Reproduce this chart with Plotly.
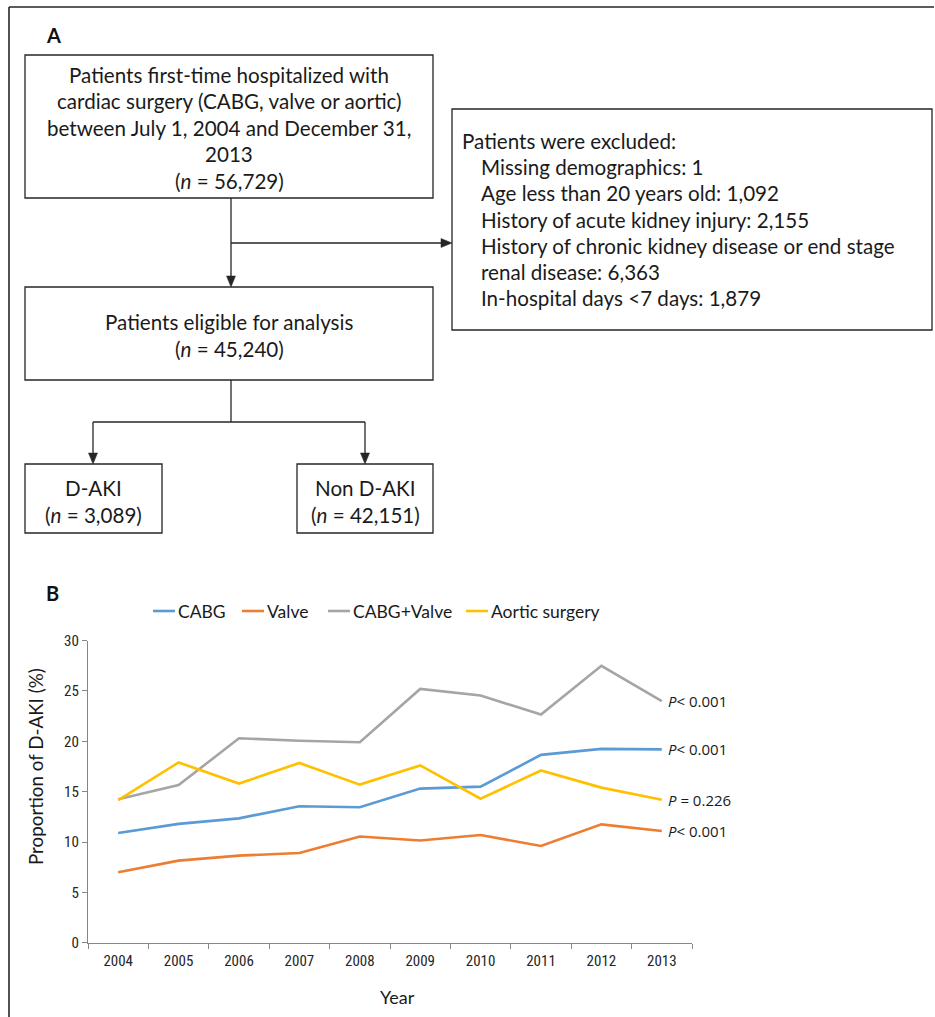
import plotly.graph_objects as go

W, H = 935, 1017

years = ["2004", "2005", "2006", "2007", "2008", "2009", "2010", "2011", "2012", "2013"]
cabg = [10.9, 11.8, 12.35, 13.55, 13.45, 15.3, 15.5, 18.65, 19.25, 19.2]
valve = [7.0, 8.15, 8.65, 8.9, 10.55, 10.15, 10.7, 9.6, 11.75, 11.1]
cabg_valve = [14.25, 15.65, 20.3, 20.05, 19.9, 25.2, 24.55, 22.65, 27.5, 24.0]
aortic = [14.15, 17.9, 15.8, 17.85, 15.7, 17.6, 14.3, 17.1, 15.4, 14.2]
series_names = ["CABG", "Valve", "CABG+Valve", "Aortic surgery"]
series_colors = ["#5B9BD5", "#ED7D31", "#A5A5A5", "#FFC000"]
p_labels = ["<i>P</i>< 0.001", "<i>P</i>< 0.001", "<i>P</i> = 0.226", "<i>P</i>< 0.001"]
p_series = [cabg_valve, cabg, aortic, valve]
y_ticks = [0, 5, 10, 15, 20, 25, 30]

box1_text = ["Patients first-time hospitalized with",
             "cardiac surgery (CABG, valve or aortic)",
             "between July 1, 2004 and December 31,",
             "2013",
             "(<i>n</i> = 56,729)"]
excl_text = ["Patients were excluded:",
             "Missing demographics: 1",
             "Age less than 20 years old: 1,092",
             "History of acute kidney injury: 2,155",
             "History of chronic kidney disease or end stage",
             "renal disease: 6,363",
             "In-hospital days <7 days: 1,879"]
box2_text = ["Patients eligible for analysis", "(<i>n</i> = 45,240)"]
daki_text = ["D-AKI", "(<i>n</i> = 3,089)"]
ndaki_text = ["Non D-AKI", "(<i>n</i> = 42,151)"]


def X(px):
    return px / W


def Y(py):
    return 1 - py / H


BOX_FONT = dict(family="Lato, Open Sans, sans-serif", size=20.6, color="#1a1a1a")
NARROW = "Liberation Sans Narrow, Arial Narrow, Roboto Condensed, Liberation Sans, sans-serif"
LINE_C = "#262626"

fig = go.Figure()
for name, vals, col in zip(series_names, [cabg, valve, cabg_valve, aortic], series_colors):
    fig.add_trace(go.Scatter(x=years, y=vals, mode="lines", name=name, showlegend=False,
                             line=dict(color=col, width=2.6)))

shapes = []
annotations = []


def line(x0, y0, x1, y1, w=1.3, c=LINE_C):
    shapes.append(dict(type="line", xref="paper", yref="paper",
                       x0=X(x0), y0=Y(y0), x1=X(x1), y1=Y(y1),
                       line=dict(color=c, width=w)))


def rect(x0, y0, x1, y1):
    shapes.append(dict(type="rect", xref="paper", yref="paper",
                       x0=X(x0), y0=Y(y0), x1=X(x1), y1=Y(y1),
                       line=dict(color=LINE_C, width=1.3), fillcolor="rgba(0,0,0,0)"))


def arrowhead(tx, ty, direction):
    L, hw = 11, 4.5
    if direction == "down":
        pts = [(tx, ty), (tx - hw, ty - L), (tx + hw, ty - L)]
    else:  # right
        pts = [(tx, ty), (tx - L, ty - hw), (tx - L, ty + hw)]
    path = "M " + " L ".join(f"{X(a):.5f},{Y(b):.5f}" for a, b in pts) + " Z"
    shapes.append(dict(type="path", xref="paper", yref="paper", path=path,
                       fillcolor=LINE_C, line=dict(color=LINE_C, width=0.5)))


def text(x, y, s, anchor="center", font=None, angle=0):
    annotations.append(dict(xref="paper", yref="paper", x=X(x), y=Y(y), text=s,
                            showarrow=False, xanchor=anchor, yanchor="middle",
                            textangle=angle, font=font or BOX_FONT))


# outer frame (top & left)
line(9, 7, 934, 7, w=1.6)
line(9, 7, 9, 1017, w=1.6)

# panel labels
text(44, 35, "<b>A</b>", "left", dict(family="Lato, sans-serif", size=20, color="#111"))
text(44, 593, "<b>B</b>", "left", dict(family="Lato, sans-serif", size=20, color="#111"))

# boxes
rect(25, 55, 433, 198)
for i, s in enumerate(box1_text):
    text(229, 75 + i * 26.5, s)

rect(452, 109, 932, 330)
for i, s in enumerate(excl_text):
    text(460 if i == 0 else 479, 141 + i * 26.2, s, "left")

rect(25, 287, 433, 380)
for i, s in enumerate(box2_text):
    text(229, 322 + i * 27, s)

rect(25, 464, 162, 533)
for i, s in enumerate(daki_text):
    text(93.5, 488 + i * 27, s)

rect(297, 464, 433, 533)
for i, s in enumerate(ndaki_text):
    text(365, 488 + i * 27, s)

# connectors
line(231, 198, 231, 280)
arrowhead(231, 287, "down")
line(231, 243, 444, 243)
arrowhead(452, 243, "right")
line(231, 380, 231, 422)
line(93, 422, 365, 422)
line(93, 422, 93, 456)
arrowhead(93, 464, "down")
line(365, 422, 365, 456)
arrowhead(365, 464, "down")

# legend (swatch + label)
LEG_FONT = dict(family="Lato, sans-serif", size=17.5, color="#1a1a1a")
leg_text_x = [176, 265, 351, 489]
for name, col, tx in zip(series_names, series_colors, leg_text_x):
    line(tx - 23, 611, tx - 1, 611, w=2.6, c=col)
    text(tx, 611, name, "left", LEG_FONT)

# axis titles
text(397, 997, "Year", "center", dict(family="Lato, sans-serif", size=18, color="#1a1a1a"))
text(35, 767, "Proportion of D-AKI (%)", "center",
     dict(family="Lato, sans-serif", size=18.8, color="#1a1a1a"), angle=-90)

# P-value labels next to last point
for lab, vals in zip(p_labels, p_series):
    annotations.append(dict(xref="paper", yref="y", x=X(666), y=vals[-1], text=lab,
                            showarrow=False, xanchor="left", yanchor="middle",
                            font=dict(family="Open Sans, sans-serif", size=15, color="#1a1a1a")))

AX_C = "#868686"
fig.update_layout(
    width=W, height=H, autosize=False,
    margin=dict(l=0, r=0, t=0, b=0, pad=0),
    paper_bgcolor="white", plot_bgcolor="white",
    shapes=shapes, annotations=annotations,
    showlegend=False,
    xaxis=dict(domain=[X(88), X(692)], type="category", range=[-0.5, 9.5],
               automargin=False,
               showline=True, linecolor=AX_C, linewidth=1.2,
               ticks="outside", tickson="boundaries", ticklen=5, tickcolor=AX_C,
               showgrid=False, zeroline=False, ticklabelstandoff=4,
               tickfont=dict(family=NARROW, size=15, color="#262626")),
    yaxis=dict(domain=[Y(942.7), Y(640.6)], range=[0, 30], tickvals=y_ticks,
               automargin=False,
               showline=True, linecolor=AX_C, linewidth=1.2,
               ticks="outside", ticklen=5, tickcolor=AX_C,
               showgrid=False, zeroline=False,
               tickfont=dict(family=NARROW, size=15, color="#262626")),
)

fig.write_html("out.html", config={"displayModeBar": False, "responsive": False},
               post_script="document.body.style.margin='0';document.body.style.overflow='hidden';")
